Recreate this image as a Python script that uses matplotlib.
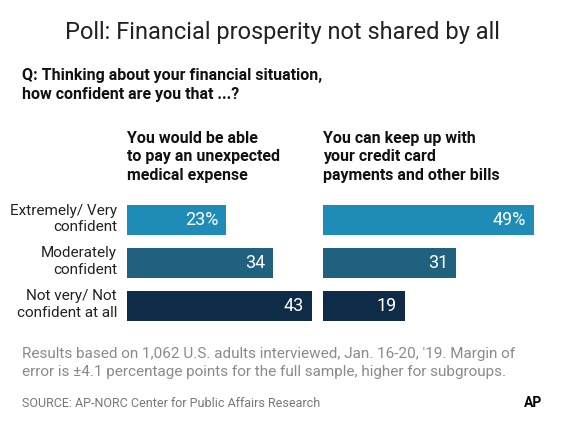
import matplotlib
matplotlib.use("Agg")
import matplotlib.pyplot as plt

categories = ["Extremely/ Very\nconfident", "Moderately\nconfident", "Not very/ Not\nconfident at all"]
medical = [23, 34, 43]
bills = [49, 31, 19]
labels_med = ["23%", "34", "43"]
labels_bill = ["49%", "31", "19"]
colors = ["#1f8cb8", "#1f617f", "#0e2b48"]

FN = ["Roboto", "DejaVu Sans"]
W, H = 566, 423
fig = plt.figure(figsize=(W/100, H/100), dpi=100)

def fy(py): return 1 - py/H

fig.text(282/W, fy(33), "Poll: Financial prosperity not shared by all", ha="center", va="center",
         fontsize=17, family=FN, color="#222222")
fig.text(22/W, fy(85), "Q: Thinking about your financial situation,\nhow confident are you that ...?", ha="left",
         va="center", fontsize=11.5, weight="bold", family=FN, color="#111111", linespacing=1.3)
fig.text(127/W, fy(157), "You would be able\nto pay an unexpected\nmedical expense", ha="left", va="center",
         fontsize=11.5, weight="bold", family=FN, color="#111111", linespacing=1.3)
fig.text(323/W, fy(157), "You can keep up with\nyour credit card\npayments and other bills", ha="left", va="center",
         fontsize=11.5, weight="bold", family=FN, color="#111111", linespacing=1.3)

scale = 4.3
for x0, vals, labs in [(127, medical, labels_med), (323, bills, labels_bill)]:
    ax = fig.add_axes([x0/W, fy(325), 50*scale/W, (325-199)/H])
    ax.barh(range(3), vals, height=0.7, color=colors)
    for i, (v, l) in enumerate(zip(vals, labs)):
        ax.text(v - 1.8, i, l, ha="right", va="center", color="white", fontsize=13, family=FN)
    ax.set_xlim(0, 50)
    ax.set_ylim(2.44, -0.5)
    ax.axis("off")

for i, c in enumerate(categories):
    fig.text(117/W, fy(219 + i*42.7), c, ha="right", va="center", fontsize=11, family=FN,
             color="#222222", linespacing=1.25)

fig.text(22/W, fy(363), "Results based on 1,062 U.S. adults interviewed, Jan. 16-20, '19. Margin of\n"
         "error is \u00b14.1 percentage points for the full sample, higher for subgroups.",
         ha="left", va="center", fontsize=11, family=FN, color="#8a8a8a", linespacing=1.3)
fig.text(22/W, fy(403), "SOURCE: AP-NORC Center for Public Affairs Research", ha="left", va="center",
         fontsize=9, family=FN, color="#777777")
fig.text(533/W, fy(403), "AP", ha="center", va="center", fontsize=10, weight="bold", family=FN, color="black")

fig.savefig("out.png", dpi=100, facecolor="white")
